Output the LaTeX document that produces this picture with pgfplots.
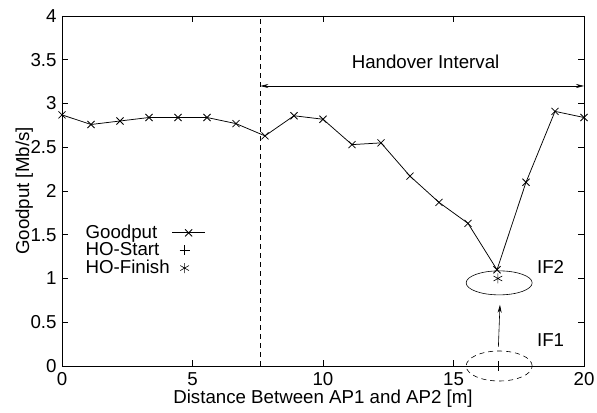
\documentclass[border=0pt]{standalone}
\usepackage{pgfplots}
\pgfplotsset{compat=1.18}
\usepackage{fontspec}
\setmainfont{Liberation Sans}
\usetikzlibrary{arrows.meta}
\newcommand\F{\fontsize{18.7bp}{21bp}\selectfont}
\pgfplotsset{goodput legend/.style={legend image code/.code={\draw[mark repeat=2,mark phase=2,##1] plot coordinates {(-4bp,0bp) (0.3cm+4bp,0bp) (0.6cm+12bp,0bp)};}}}
\begin{document}
\F
\begin{tikzpicture}
\begin{axis}[
 scale only axis, width=522bp, height=350bp,
 xmin=0, xmax=20, ymin=0, ymax=4,
 xtick={0,5,10,15,20}, ytick={0,0.5,1,1.5,2,2.5,3,3.5,4},
 tick align=inside, major tick length=6bp,
 tick style={line width=0.6pt, black},
 axis line style={line width=0.8pt},
 /pgf/number format/assume math mode=true,
 yticklabel style={/pgf/number format/fixed, font=\F, xshift=1bp},
 xticklabel style={font=\F},
 xlabel={Distance Between AP1 and AP2 [m]},
 ylabel={Goodput [Mb/s]},
 label style={font=\F},
 xlabel style={yshift=8bp},
 ylabel style={yshift=-15bp},
 clip=false,
 legend cell align=left,
 legend plot pos=right,
 legend style={at={(axis cs:0.82,1.64)}, anchor=north west, draw=none, fill=none,
   font=\F, inner sep=0pt, row sep=-2.5bp},
]
\addplot[black, line width=0.75pt, mark=x, mark size=5bp, goodput legend]
coordinates {
(0.000,2.87) (1.111,2.76) (2.222,2.80) (3.333,2.84) (4.444,2.84) (5.556,2.84)
(6.667,2.77) (7.778,2.63) (8.889,2.86) (10.000,2.82) (11.111,2.53) (12.222,2.55)
(13.333,2.17) (14.444,1.87) (15.556,1.63) (16.667,1.10) (17.778,2.10) (18.889,2.91)
(20.000,2.84)};
\addlegendentry{Goodput}
\addplot[black, only marks, mark=+, mark size=5bp, line width=0.6pt] coordinates {(16.7,0)};
\addlegendentry{HO-Start}
\addplot[black, only marks, mark=asterisk, mark size=5bp, line width=0.6pt] coordinates {(16.7,1.0)};
\addlegendentry{HO-Finish}
\draw[black, line width=0.6pt, dash pattern=on 5bp off 4bp] (axis cs:7.6,0) -- (axis cs:7.6,4);
\draw[black, line width=0.6pt, {Stealth[length=8bp,width=4bp]}-{Stealth[length=8bp,width=4bp]}] (axis cs:7.6,3.2) -- (axis cs:20,3.2);
\node[font=\F] at (axis cs:13.93,3.48) {Handover Interval};
\draw[black, line width=0.6pt] (axis cs:16.75,0.95) ellipse [x radius=33bp, y radius=12bp];
\draw[black, line width=0.6pt, dash pattern=on 5bp off 4bp] (axis cs:16.75,0) ellipse [x radius=33bp, y radius=15bp];
\draw[black, line width=0.6pt, -{Stealth[length=8bp,width=4bp]}] (axis cs:16.72,0.22) -- (axis cs:16.78,0.70);
\node[font=\F] at (axis cs:18.72,1.13) {IF2};
\node[font=\F] at (axis cs:18.72,0.30) {IF1};
\end{axis}
\pgfresetboundingbox
\path[use as bounding box] ([shift={(-62bp,-47bp)}]current axis.south west) rectangle ([shift={(13bp,16bp)}]current axis.north east);
\end{tikzpicture}
\end{document}
